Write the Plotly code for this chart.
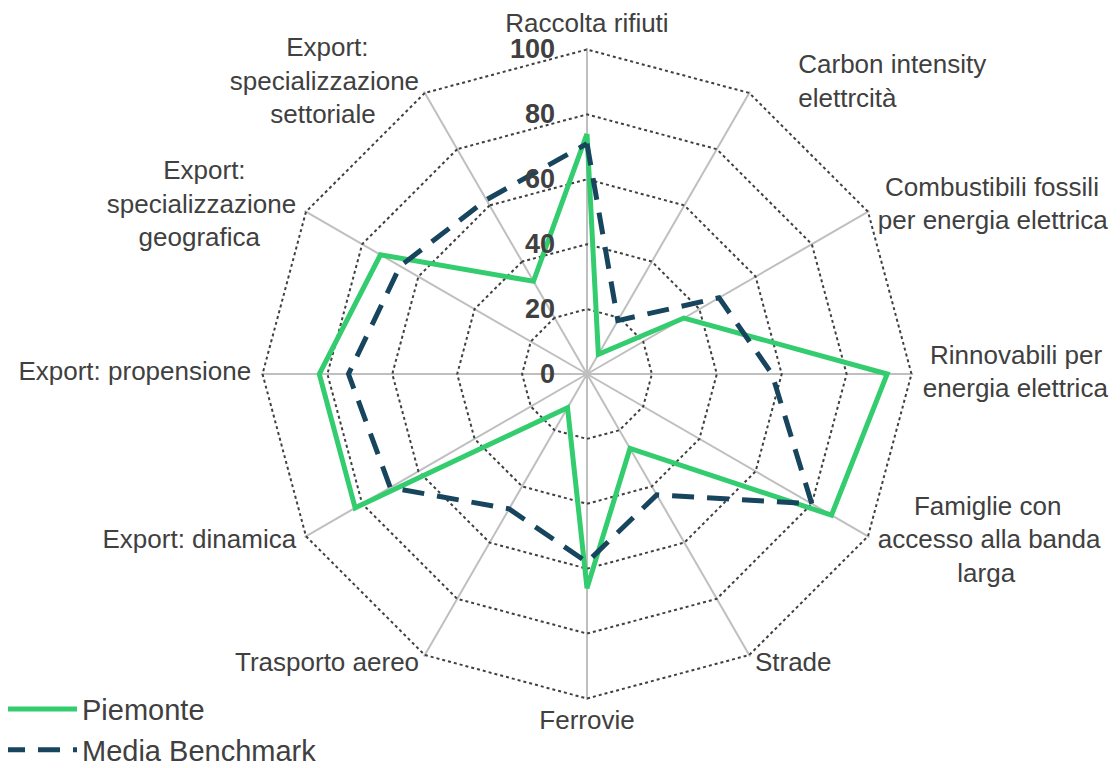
import plotly.graph_objects as go

NB = "\u00a0"
categories = [
    "Raccolta rifiuti",
    "Carbon intensity elettrcità",
    "Combustibili fossili per energia elettrica",
    "Rinnovabili per energia elettrica",
    "Famiglie con accesso alla banda larga",
    "Strade",
    "Ferrovie",
    "Trasporto aereo",
    "Export: dinamica",
    "Export: propensione",
    "Export: specializzazione geografica",
    "Export: specializzazione settoriale",
]
# displayed (wrapped) category labels
category_labels = [
    "Raccolta rifiuti",
    NB * 6 + "Carbon intensity<br>" + NB * 6 + "elettrcità",
    NB + "Combustibili fossili<br>per energia elettrica",
    NB + "Rinnovabili per<br>energia elettrica",
    NB * 5 + "Famiglie con<br>accesso alla banda<br>" + NB * 11 + "larga",
    "Strade",
    "Ferrovie",
    "Trasporto aereo",
    "Export: dinamica",
    "Export: propensione",
    "Export:" + NB * 7 + "<br>specializzazione<br>geografica" + NB * 5,
    "Export:" + NB * 7 + "<br>specializzazione<br>settoriale" + NB * 6,
]
piemonte = [74, 7, 34.5, 92.5, 87, 26.5, 66, 12, 82.5, 82.5, 73.5, 33]
benchmark = [71, 19, 47, 57, 80, 43, 58, 48, 70, 73.5, 66.5, 62]
radial_ticks = [0, 20, 40, 60, 80, 100]

GREEN = "#33CC6E"
NAVY = "#17455E"
TEXT = "#404040"

label_positions = [
    "top center", "middle right", "middle right", "middle right",
    "middle right", "middle right", "bottom center", "middle left",
    "middle left", "middle left", "middle left", "middle left",
]
LABEL_R = 103.5

fig = go.Figure()
fig.add_trace(go.Scatterpolar(
    r=piemonte + piemonte[:1], theta=categories + categories[:1],
    mode="lines", name="Piemonte",
    line=dict(color=GREEN, width=5),
))
fig.add_trace(go.Scatterpolar(
    r=benchmark + benchmark[:1], theta=categories + categories[:1],
    mode="lines", name="Media Benchmark",
    line=dict(color=NAVY, width=5, dash="22px,13px"),
))
# category labels on an overlaid, invisible polar with a wider range
fig.add_trace(go.Scatterpolar(
    r=[LABEL_R] * len(categories), theta=categories, subplot="polar2",
    mode="text", text=category_labels, textposition=label_positions,
    textfont=dict(size=26, color=TEXT, family="Liberation Sans, Arial, sans-serif"),
    cliponaxis=False, showlegend=False, hoverinfo="skip",
))

# figure is offset by the page's 8px body margin
W, H = 1112, 760
RMAX = 100.5
RMAX2 = 110
R = 324.5 * RMAX / 100
R2 = 324.5 * RMAX2 / 100
cx, cy = 579, 366


def dom(rad):
    return dict(x=[(cx - rad) / W, (cx + rad) / W], y=[(H - cy - rad) / H, (H - cy + rad) / H])


fig.update_layout(
    width=W, height=H,
    paper_bgcolor="white", plot_bgcolor="white",
    margin=dict(l=0, r=0, t=0, b=0, autoexpand=False),
    font=dict(family="Liberation Sans, Arial, sans-serif", color=TEXT, size=26),
    polar=dict(
        domain=dom(R),
        gridshape="linear",
        bgcolor="white",
        radialaxis=dict(
            range=[0, RMAX], tickvals=radial_ticks, ticktext=[str(v) for v in radial_ticks],
            angle=90, tickangle=90, side="counterclockwise",
            showline=False, ticks="outside", ticklen=22, tickcolor="rgba(0,0,0,0)",
            gridcolor="#404040", griddash="dot", gridwidth=1.5,
            tickfont=dict(size=27, color=TEXT, weight="bold"),
        ),
        angularaxis=dict(
            rotation=90, direction="clockwise",
            showline=False, ticks="", showticklabels=False,
            gridcolor="#BFBFBF", gridwidth=1.5,
        ),
    ),
    polar2=dict(
        domain=dom(R2),
        gridshape="linear",
        bgcolor="rgba(0,0,0,0)",
        radialaxis=dict(range=[0, RMAX2], visible=False, showgrid=False,
                        showticklabels=False, ticks="", showline=False),
        angularaxis=dict(rotation=90, direction="clockwise", visible=False,
                         showgrid=False, showline=False, showticklabels=False, ticks=""),
    ),
    showlegend=True,
    legend=dict(
        x=-10 / W, y=-0.0102, xanchor="left", yanchor="bottom",
        itemwidth=74,
        font=dict(size=29, color=TEXT),
        bgcolor="rgba(0,0,0,0)",
    ),
)

fig.write_html("out.html")
